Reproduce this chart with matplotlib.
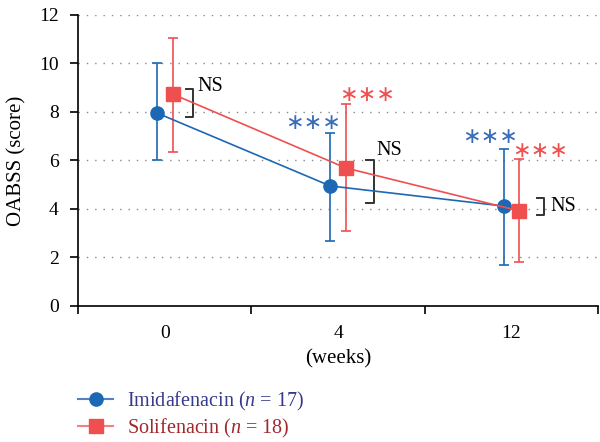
import numpy as np
import matplotlib
matplotlib.use('Agg')
import matplotlib.pyplot as plt
from matplotlib.lines import Line2D

plt.rcParams['font.family'] = ['Liberation Serif', 'DejaVu Serif']
plt.rcParams['mathtext.fontset'] = 'custom'
plt.rcParams['mathtext.it'] = 'Liberation Serif:italic'
plt.rcParams['mathtext.rm'] = 'Liberation Serif'

weeks = ['0', '4', '12']
imida_mean = [7.96, 4.95, 4.12]
imida_lo = [6.02, 2.68, 1.69]
imida_hi = [10.02, 7.13, 6.47]
soli_mean = [8.74, 5.69, 3.92]
soli_lo = [6.35, 3.09, 1.81]
soli_hi = [11.05, 8.31, 6.06]

blue = '#1c68b4'
red = '#ef4f4f'

fig = plt.figure(figsize=(6, 4.42), dpi=100)
ax = fig.add_axes([0.13, 0.3077, 0.867, 0.6584])

x = np.arange(len(weeks))
xb = x - 0.045
xr = x + 0.045

im = np.array(imida_mean)
sm = np.array(soli_mean)
ax.errorbar(xb, im, yerr=[im - np.array(imida_lo), np.array(imida_hi) - im],
            color=blue, marker='o', markersize=9.5, lw=1.2, capsize=3.5,
            elinewidth=1.2, capthick=1.2, zorder=3)
ax.errorbar(xr, sm, yerr=[sm - np.array(soli_lo), np.array(soli_hi) - sm],
            color=red, marker='s', markersize=9.5, lw=1.2, capsize=3.5,
            elinewidth=1.2, capthick=1.2, zorder=3)

# significance stars
star = '\u2217\u2217\u2217'
kw = dict(fontsize=16, ha='center', va='center', family=['DejaVu Sans'])
ax.text(xb[1] - 0.1, 7.55, star, color='#3a6cb8', **kw)
ax.text(xr[1] + 0.12, 8.7, star, color=red, **kw)
ax.text(xb[2] - 0.08, 6.95, star, color='#3a6cb8', **kw)
ax.text(xr[2] + 0.12, 6.4, star, color=red, **kw)

# NS brackets
brackets = [(0.165, 7.8, 8.95), (1.205, 4.25, 6.02), (2.19, 3.75, 4.45)]
for bx, y0, y1 in brackets:
    ax.plot([bx - 0.045, bx, bx, bx - 0.045], [y0, y0, y1, y1],
            color='#333333', lw=1.4, clip_on=False)
ax.text(0.19, 9.05, 'NS', fontsize=14.5, ha='left', va='center')
ax.text(1.22, 6.4, 'NS', fontsize=14.5, ha='left', va='center')
ax.text(2.225, 4.1, 'NS', fontsize=14.5, ha='left', va='center')

ax.set_xlim(-0.5, 2.5)
ax.set_ylim(0, 12)
ax.set_yticks(np.arange(0, 13, 2))
ax.set_xticks(x)
ax.set_xticklabels(weeks)
ax.set_xticks([-0.5, 0.5, 1.5, 2.5], minor=True)
ax.tick_params(axis='x', which='major', length=0, labelsize=14, pad=14)
ax.tick_params(axis='x', which='minor', length=6, width=1.2, direction='out')
ax.tick_params(axis='y', length=6, width=1.2, labelsize=14, pad=8)
for s in ['top', 'right']:
    ax.spines[s].set_visible(False)
for s in ['left', 'bottom']:
    ax.spines[s].set_linewidth(1.2)
ax.yaxis.grid(True, linestyle=(0, (1, 5)), color='#888888', lw=1)
ax.set_axisbelow(True)

ax.set_ylabel('OABSS (score)', fontsize=15, labelpad=9)
ax.set_xlabel('(weeks)', fontsize=15, labelpad=5)

handles = [
    Line2D([], [], color='#5580c8', marker='o', markersize=9.5, markerfacecolor=blue,
           markeredgecolor=blue, lw=1.5),
    Line2D([], [], color='#f48080', marker='s', markersize=9.5, markerfacecolor=red,
           markeredgecolor=red, lw=1.5),
]
leg = fig.legend(handles, ['Imidafenacin ($n$ = 17)', 'Solifenacin ($n$ = 18)'],
                 loc='upper left', bbox_to_anchor=(0.13, 0.118), frameon=False,
                 fontsize=14.5, handlelength=1.75, labelspacing=0.18, handletextpad=0.7,
                 borderaxespad=0, borderpad=0)
leg.get_texts()[0].set_color('#363a8a')
leg.get_texts()[1].set_color('#a0282c')

fig.savefig('out.png', dpi=100)
